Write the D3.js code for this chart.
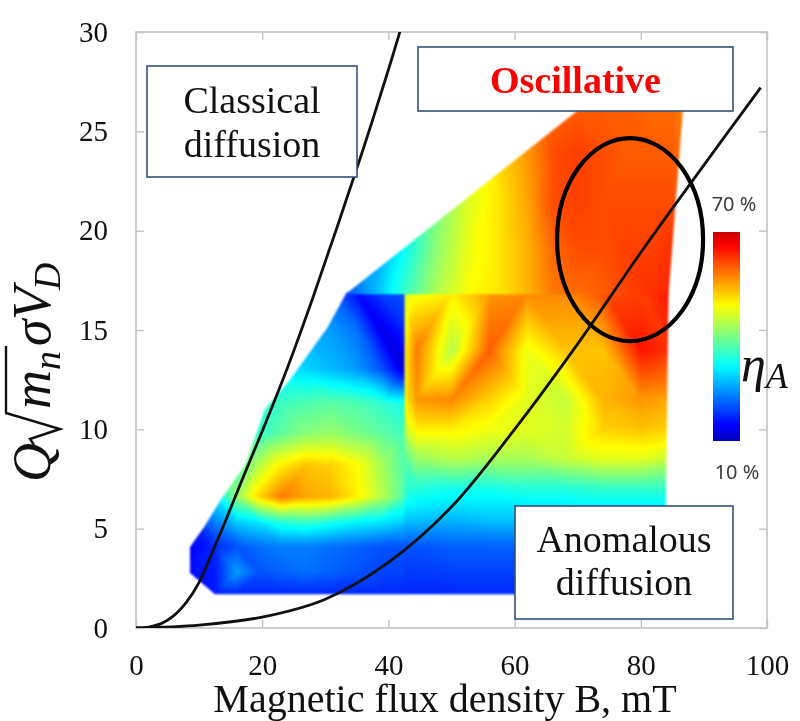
<!DOCTYPE html>
<html><head><meta charset="utf-8">
<script src="https://cdn.jsdelivr.net/npm/d3@7"></script>
<style>
html,body{margin:0;padding:0;background:#fff;}
#wrap{position:relative;width:800px;height:721px;overflow:hidden;}
#wrap canvas,#wrap svg{position:absolute;left:0;top:0;}
</style></head><body><div id="wrap"></div>
<script>
// ---- axis ticks ----
const xTicks = [0, 20, 40, 60, 80, 100];
const yTicks = [0, 5, 10, 15, 20, 25, 30];

// ---- anomalous-efficiency map ηA (%) on three measured sub-grids ----
// lower-left block: B columns (mT) x Q rows
const lowLeftB = [8.5, 12.5, 16, 19.5, 23, 27, 31, 35, 39, 42.7];
const lowLeftQ = [1.7, 2.8, 4.1, 5.3, 6.6, 8.2, 9.8, 11.3, 13, 15, 16.9];
const lowLeftEta = [
  [16, 16, 17, 17, 17, 17, 17, 17, 17, 17],
  [15, 16, 25, 20, 21, 22, 21, 20, 19, 19],
  [14, 17, 20, 22, 23, 23, 22, 21, 20, 20],
  [16, 23, 28, 30, 34, 35, 33, 31, 30, 28],
  [22, 30, 42, 52, 58, 55, 54, 50, 44, 37],
  [26, 32, 36, 44, 50, 53, 52, 49, 43, 37],
  [28, 30, 33, 35, 38, 41, 42, 40, 38, 36],
  [30, 31, 33, 34, 36, 37, 38, 37, 35, 33],
  [28, 28, 29, 30, 30, 29, 27, 25, 20, 12],
  [26, 26, 26, 26, 26, 26, 25, 22, 13, 17],
  [22, 22, 22, 22, 22, 22, 21, 15, 19, 20]
];
const lowLeftOutline = [[12.5, 1.7], [42.7, 1.7], [42.7, 16.9], [33.4, 16.9], [30.3, 15.1],
  [24.4, 12.5], [20.4, 11.0], [17.3, 8.2], [13.6, 6.54], [10.9, 5.13], [8.56, 4.08], [8.56, 2.77]];

// lower-right block
const lowRightB = [42.7, 44.5, 50, 56, 62, 68, 74, 80, 84.6];
const lowRightQ = [1.7, 4.1, 5.5, 7, 8.5, 10, 11.5, 14, 16.9];
const lowRightEta = [
  [17, 17, 17, 17, 17, 17, 17, 17, 17],
  [20, 20, 21, 21, 21, 21, 21, 21, 21],
  [28, 28, 27, 28, 28, 28, 28, 28, 28],
  [35, 34, 33, 33, 34, 34, 35, 35, 35],
  [38, 42, 44, 43, 43, 45, 47, 47, 45],
  [45, 50, 50, 48, 47, 46, 52, 53, 52],
  [50, 56, 57, 52, 47, 45, 54, 56, 55],
  [50, 58, 44, 60, 48, 53, 53, 65, 63],
  [46, 48, 50, 56, 57, 57, 61, 62, 65]
];
const lowRightOutline = [[42.55, 1.7], [83.8, 1.7], [84.4, 16.9], [42.55, 16.9]];

// upper block
const upperB = [33.4, 38, 43, 48, 53, 58, 62, 66, 70, 74, 78, 82, 85, 87];
const upperQ = [16.9, 19, 21.5, 24, 26.2];
const upperEta = [
  [20, 27, 36, 44, 49, 51, 54, 58, 59, 60, 62, 63, 64, 61],
  [22, 25, 33, 42, 48, 51, 54, 59, 61, 61, 62, 62, 63, 59],
  [22, 26, 32, 40, 47, 51, 55, 61, 62, 61, 61, 61, 61, 59],
  [25, 30, 36, 42, 47, 52, 56, 61, 62, 61, 60, 60, 60, 58],
  [25, 30, 36, 42, 47, 52, 56, 59, 60, 60, 60, 59, 59, 58]
];
const upperOutline = [[33.2, 16.8], [84.4, 16.8], [86.7, 26.2], [70.6, 26.2]];

// ---- regime boundary curves (B, Q) ----
const classicalCurve = [[0, 0], [2, 0.05], [4, 0.22], [6, 0.62], [8, 1.3], [10, 2.3], [12, 3.75],
  [14, 5.25], [17, 7.6], [20, 9.9], [24, 13.1], [28, 16.6], [32, 20.3], [36, 24.1], [40, 28.1], [42, 30.2]];
const anomalousCurve = [[0, 0], [10, 0.15], [20, 0.55], [30, 1.45], [40, 3.3], [50, 6.1],
  [60, 10.0], [70, 14.3], [80, 18.9], [90, 23.3], [99, 27.2]];

// highlighted operating window (centre B, Q and half-widths)
const windowCentre = [78.3, 19.55];
const windowHalf = [11.57, 5.11];

// colour bar range (%)
const etaRange = [10, 70];

// ---------------------------------------------------------------
const W = 800, H = 721;
const x = d3.scaleLinear().domain([0, 100]).range([136, 767]);
const y = d3.scaleLinear().domain([0, 30]).range([628, 32]);

// jet colormap, colour bar spans jet 0.06 .. 0.93
const jet = d3.scaleLinear()
  .domain([0, 0.125, 0.375, 0.625, 0.875, 1])
  .range(["#000080", "#0000ff", "#00ffff", "#ffff00", "#ff0000", "#800000"])
  .clamp(true);
const tOf = d3.scaleLinear().domain(etaRange).range([0.06, 0.93]).clamp(true);
const color = v => jet(tOf(v));

const lut = d3.range(0, 601).map(i => d3.rgb(color(etaRange[0] + i * (etaRange[1] - etaRange[0]) / 600)));
const lutIndex = v => Math.max(0, Math.min(600, Math.round((v - etaRange[0]) / (etaRange[1] - etaRange[0]) * 600)));

const wrap = d3.select('#wrap');
const canvas = wrap.append('canvas').attr('width', W).attr('height', H).node();
const ctx = canvas.getContext('2d');

// all blocks are composed unblurred first, then softened once
const comp = document.createElement('canvas');
comp.width = W; comp.height = H;
const cctx = comp.getContext('2d');

function paintBlock(bs, qs, vals, outline) {
  const pts = [], v = [];
  qs.forEach((q, i) => bs.forEach((b, j) => { pts.push([x(b), y(q)]); v.push(vals[i][j]); }));
  const del = d3.Delaunay.from(pts);
  const off = document.createElement('canvas');
  off.width = W; off.height = H;
  const octx = off.getContext('2d');
  const img = octx.createImageData(W, H);
  const data = img.data;
  const t = del.triangles;
  // pass 0: exact linear interpolation inside each triangle;
  // pass 1: fill a thin rim just outside the hull by extrapolation
  [-1e-6, -0.35].forEach(tol => {
    for (let k = 0; k < t.length; k += 3) {
      const a = t[k], b = t[k + 1], c = t[k + 2];
      const [x1, y1] = pts[a], [x2, y2] = pts[b], [x3, y3] = pts[c];
      const det = (y2 - y3) * (x1 - x3) + (x3 - x2) * (y1 - y3);
      if (Math.abs(det) < 1e-9) continue;
      const pad = tol < -0.01 ? 6 : 1;
      const minX = Math.max(0, Math.floor(Math.min(x1, x2, x3)) - pad);
      const maxX = Math.min(W - 1, Math.ceil(Math.max(x1, x2, x3)) + pad);
      const minY = Math.max(0, Math.floor(Math.min(y1, y2, y3)) - pad);
      const maxY = Math.min(H - 1, Math.ceil(Math.max(y1, y2, y3)) + pad);
      for (let py = minY; py <= maxY; py++) {
        for (let px = minX; px <= maxX; px++) {
          const p = (py * W + px) * 4;
          if (data[p + 3]) continue;
          const cx = px + 0.5, cy = py + 0.5;
          const w1 = ((y2 - y3) * (cx - x3) + (x3 - x2) * (cy - y3)) / det;
          const w2 = ((y3 - y1) * (cx - x3) + (x1 - x3) * (cy - y3)) / det;
          const w3 = 1 - w1 - w2;
          if (w1 < tol || w2 < tol || w3 < tol) continue;
          const val = w1 * v[a] + w2 * v[b] + w3 * v[c];
          const col = lut[lutIndex(val)];
          data[p] = col.r; data[p + 1] = col.g; data[p + 2] = col.b; data[p + 3] = 255;
        }
      }
    }
  });
  octx.putImageData(img, 0, 0);
  cctx.save();
  cctx.beginPath();
  outline.forEach(([b, q], i) => i ? cctx.lineTo(x(b), y(q)) : cctx.moveTo(x(b), y(q)));
  cctx.closePath();
  cctx.clip();
  cctx.drawImage(off, 0, 0);
  cctx.restore();
}

paintBlock(lowLeftB, lowLeftQ, lowLeftEta, lowLeftOutline);
paintBlock(lowRightB, lowRightQ, lowRightEta, lowRightOutline);
paintBlock(upperB, upperQ, upperEta, upperOutline);
ctx.filter = 'blur(0.8px)';
ctx.drawImage(comp, 0, 0);
ctx.filter = 'none';

// ---------------------------------------------------------------
const svg = wrap.append('svg').attr('width', W).attr('height', H);
const frameCol = '#c4c4c4';
const serif = "'Liberation Serif', 'Times New Roman', serif";

svg.append('rect')
  .attr('x', x(0)).attr('y', y(30))
  .attr('width', x(100) - x(0)).attr('height', y(0) - y(30))
  .attr('fill', 'none').attr('stroke', frameCol).attr('stroke-width', 1.6);

function styleAxis(g) {
  g.select('.domain').remove();
  g.selectAll('.tick line').attr('stroke', frameCol).attr('stroke-width', 1.4);
  g.attr('font-family', serif).attr('font-size', 29);
  g.selectAll('.tick text').attr('fill', '#111');
}
svg.append('g').attr('transform', `translate(0,${y(0)})`)
  .call(d3.axisBottom(x).tickValues(xTicks).tickSizeInner(-8).tickSizeOuter(0).tickPadding(26))
  .call(styleAxis);
svg.append('g').attr('transform', `translate(0,${y(30)})`)
  .call(d3.axisTop(x).tickValues(xTicks).tickSizeInner(-8).tickSizeOuter(0).tickFormat(''))
  .call(styleAxis);
svg.append('g').attr('transform', `translate(${x(0)},0)`)
  .call(d3.axisLeft(y).tickValues(yTicks).tickSizeInner(-8).tickSizeOuter(0).tickPadding(28))
  .call(styleAxis);
svg.append('g').attr('transform', `translate(${x(100)},0)`)
  .call(d3.axisRight(y).tickValues(yTicks).tickSizeInner(-8).tickSizeOuter(0).tickFormat(''))
  .call(styleAxis);

// regime boundaries
const line = d3.line().x(d => x(d[0])).y(d => y(d[1])).curve(d3.curveCatmullRom.alpha(0.5));
svg.append('clipPath').attr('id', 'plotClip').append('rect')
  .attr('x', x(0)).attr('y', y(30)).attr('width', x(100) - x(0)).attr('height', y(0) - y(30));
const curves = svg.append('g').attr('clip-path', 'url(#plotClip)');
[classicalCurve, anomalousCurve].forEach(c => {
  curves.append('path').attr('d', line(c)).attr('fill', 'none')
    .attr('stroke', '#111').attr('stroke-width', 2.8);
});

// highlighted window
svg.append('ellipse')
  .attr('cx', x(windowCentre[0])).attr('cy', y(windowCentre[1]))
  .attr('rx', x(windowCentre[0] + windowHalf[0]) - x(windowCentre[0]))
  .attr('ry', y(windowCentre[1] - windowHalf[1]) - y(windowCentre[1]))
  .attr('fill', 'none').attr('stroke', '#000').attr('stroke-width', 4.2);

// regime labels
const boxCol = '#34507a';
function regimeBox(bx, by, bw, bh, lines, opts = {}) {
  const g = svg.append('g');
  g.append('rect').attr('x', bx).attr('y', by).attr('width', bw).attr('height', bh)
    .attr('fill', '#fff').attr('stroke', boxCol).attr('stroke-width', 1.6);
  lines.forEach(([txt, base]) => {
    g.append('text').attr('x', bx + bw / 2).attr('y', base)
      .attr('text-anchor', 'middle').attr('font-family', serif)
      .attr('font-size', opts.size || 38).attr('font-weight', opts.weight || 'normal')
      .attr('fill', opts.fill || '#111').text(txt);
  });
}
regimeBox(147, 66, 210, 111, [['Classical', 113], ['diffusion', 157]]);
regimeBox(418, 47, 315, 64, [['Oscillative', 93]], { weight: 'bold', fill: '#ff0000', size: 38 });
regimeBox(515, 506, 218, 113, [['Anomalous', 552], ['diffusion', 595]]);

// colour bar
const defs = svg.append('defs');
const grad = defs.append('linearGradient').attr('id', 'etaGrad')
  .attr('x1', 0).attr('y1', 1).attr('x2', 0).attr('y2', 0);
d3.range(0, 41).forEach(i => {
  const v = etaRange[0] + (etaRange[1] - etaRange[0]) * i / 40;
  grad.append('stop').attr('offset', i / 40).attr('stop-color', color(v));
});
svg.append('rect').attr('x', 713).attr('y', 232).attr('width', 27).attr('height', 209)
  .attr('fill', 'url(#etaGrad)');
const sans = "'Noto Sans', 'DejaVu Sans', sans-serif";
svg.append('text').attr('x', 734).attr('y', 211).attr('text-anchor', 'middle')
  .attr('font-family', sans).attr('font-size', 20).attr('fill', '#3c3c3c').text(etaRange[1] + ' %');
svg.append('text').attr('x', 737).attr('y', 479).attr('text-anchor', 'middle')
  .attr('font-family', sans).attr('font-size', 20).attr('fill', '#3c3c3c').text(etaRange[0] + ' %');
const etaLab = svg.append('text').attr('x', 741).attr('y', 381)
  .attr('font-family', serif).attr('font-style', 'italic').attr('fill', '#111');
etaLab.append('tspan').attr('font-size', 50).text('η');
etaLab.append('tspan').attr('font-size', 36).attr('dy', 7).text('A');

// axis titles
svg.append('text').attr('x', 445).attr('y', 712).attr('text-anchor', 'middle')
  .attr('font-family', serif).attr('font-size', 40).attr('fill', '#111')
  .text('Magnetic flux density B, mT');

const yt = svg.append('g').attr('transform', 'translate(50,482) rotate(-90)')
  .attr('font-family', serif).attr('font-style', 'italic').attr('fill', '#111');
const F = 54;
yt.append('text').attr('x', 0).attr('y', 0).attr('font-size', F).text('Q');
yt.append('path')
  .attr('d', `M37,-16 L43,-20 L53,10 L69,-44 L136,-44`)
  .attr('fill', 'none').attr('stroke', '#111').attr('stroke-width', 2.4).attr('stroke-linejoin', 'miter');
yt.append('text').attr('x', 73).attr('y', 0).attr('font-size', F).text('m');
yt.append('text').attr('x', 112).attr('y', 10).attr('font-size', F * 0.7).text('n');
yt.append('text').attr('x', 136).attr('y', 0).attr('font-size', F).text('σ');
yt.append('text').attr('x', 162).attr('y', 0).attr('font-size', F).text('V');
yt.append('text').attr('x', 192).attr('y', 10).attr('font-size', F * 0.7).text('D');
</script></body></html>
